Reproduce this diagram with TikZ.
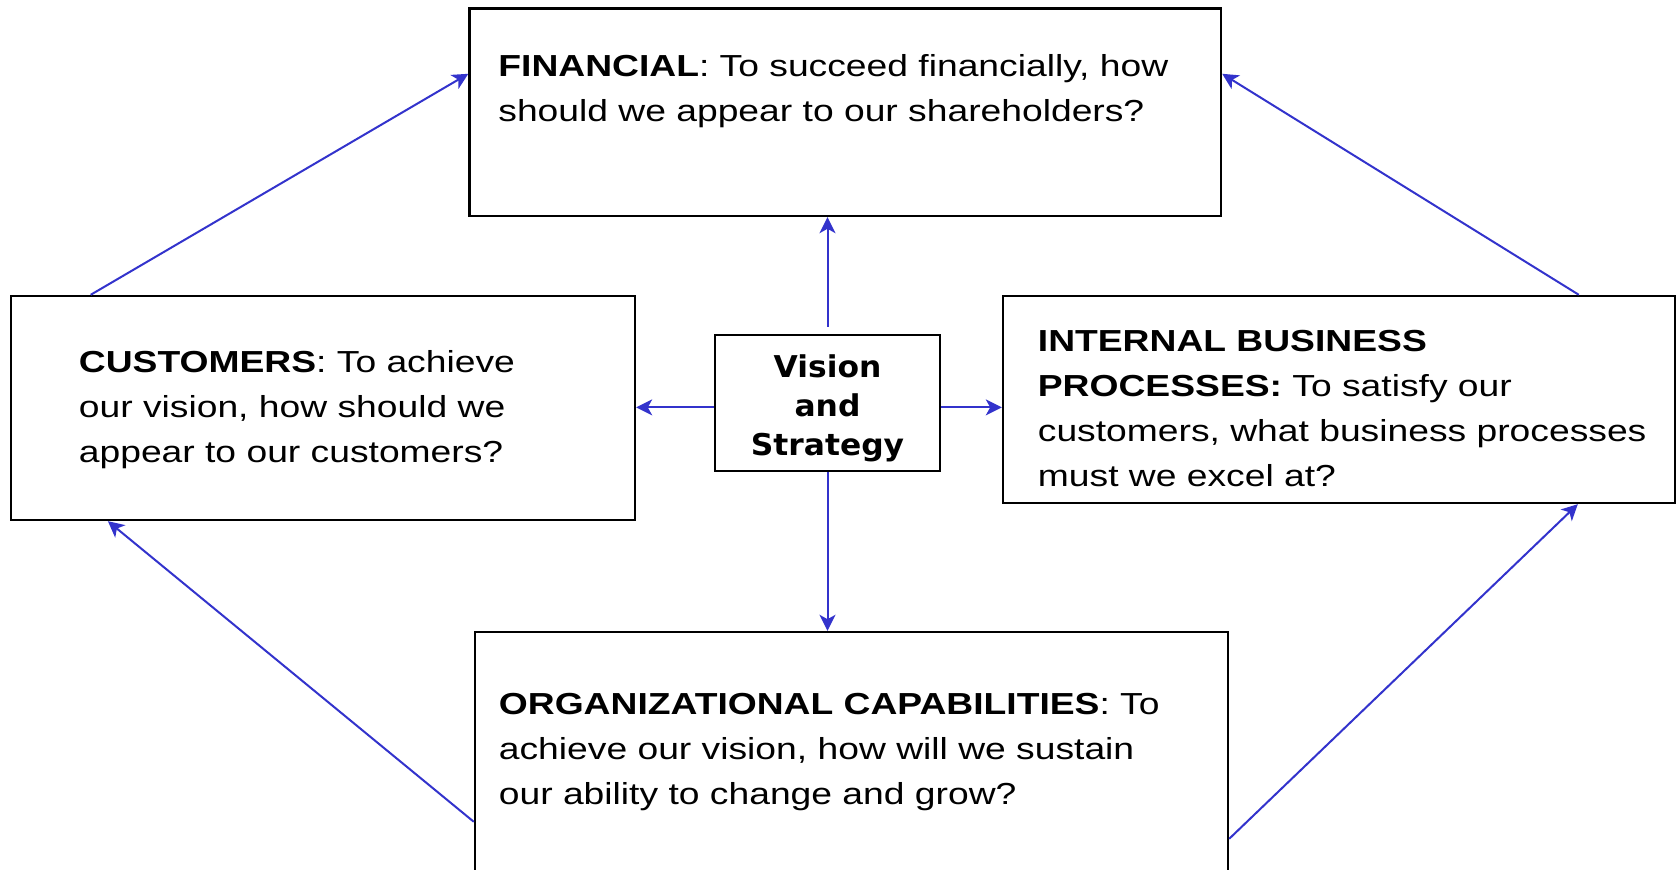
\documentclass[tikz,border=0pt]{standalone}
\usepackage{fontspec}
\setmainfont{Liberation Sans}[FakeStretch=1.225]
\newfontfamily\visionfont{DejaVu Sans}[FakeStretch=1.045]
\usetikzlibrary{arrows.meta}
\definecolor{linkblue}{RGB}{51,51,204}

\begin{document}
\begin{tikzpicture}[x=0.5pt, y=-0.5pt,
    box/.style={draw, line width=1.2pt, inner sep=0pt},
    blurb/.style={anchor=north west, align=left, inner sep=0pt, font=\fontsize{15.2}{22.5}\selectfont},
    link/.style={draw=linkblue, line width=1pt, -{Stealth[length=8pt,width=8pt,inset=2.2pt]}}]

    \useasboundingbox (0,0) rectangle (1677,870);
    \clip (0,0) rectangle (1677,870);

    % Boxes
    \node (fin) [box, minimum width=375.75pt, minimum height=103.7pt] at (845.25,112.3) {};
    \node (cust) [box, minimum width=312.15pt, minimum height=112pt] at (322.85,408) {};
    \node (intl) [box, minimum width=336pt, minimum height=103.5pt] at (1339,399.5) {};
    \node (org) [box, minimum width=376.5pt, minimum height=184pt] at (851.5,816) {};
    \node (vis) [box, minimum width=112.5pt, minimum height=68pt] at (827.5,403) {};

    % Texts
    \node (visText) [anchor=north, align=center, inner sep=0pt,
        font=\visionfont\bfseries\fontsize{15}{19.35}\selectfont] at (827.5,354.5) {Vision\\and\\Strategy};
    \node (finText) [blurb] at (498,54.5) {\textbf{FINANCIAL}: To succeed financially, how\\should we appear to our shareholders?};
    \node (custText) [blurb] at (78.5,350.5) {\textbf{CUSTOMERS}: To achieve\\our vision, how should we\\appear to our customers?};
    \node (intlText) [blurb] at (1037.5,329.7) {\textbf{INTERNAL BUSINESS}\\\textbf{PROCESSES:} To satisfy our\\customers, what business processes\\must we excel at?};
    \node (orgText) [blurb] at (498.5,692.5) {\textbf{ORGANIZATIONAL CAPABILITIES}: To\\achieve our vision, how will we sustain\\our ability to change and grow?};

    % Arrows
    \draw[link] ([xshift=40.6pt]cust.north west) -- ([yshift=-33.2pt]fin.north west);
    \draw[link] ([xshift=288.5pt]intl.north west) -- ([yshift=-33.2pt]fin.north east);
    \draw[link] ([yshift=-95.5pt]org.north west) -- ([xshift=49.2pt]cust.south west);
    \draw[link] ([yshift=-104pt]org.north east) -- ([xshift=288pt]intl.south west);
    \draw[link, shorten <=3.5pt] (vis.north) -- (vis.north |- fin.south);
    \draw[link] ([yshift=-2.2pt]vis.west) -- ([yshift=-2.2pt]vis.west -| cust.east);
    \draw[link] ([yshift=-2.2pt]vis.east) -- ([yshift=-2.2pt]vis.east -| intl.west);
    \draw[link] (vis.south) -- (vis.south |- org.north);
\end{tikzpicture}
\end{document}
